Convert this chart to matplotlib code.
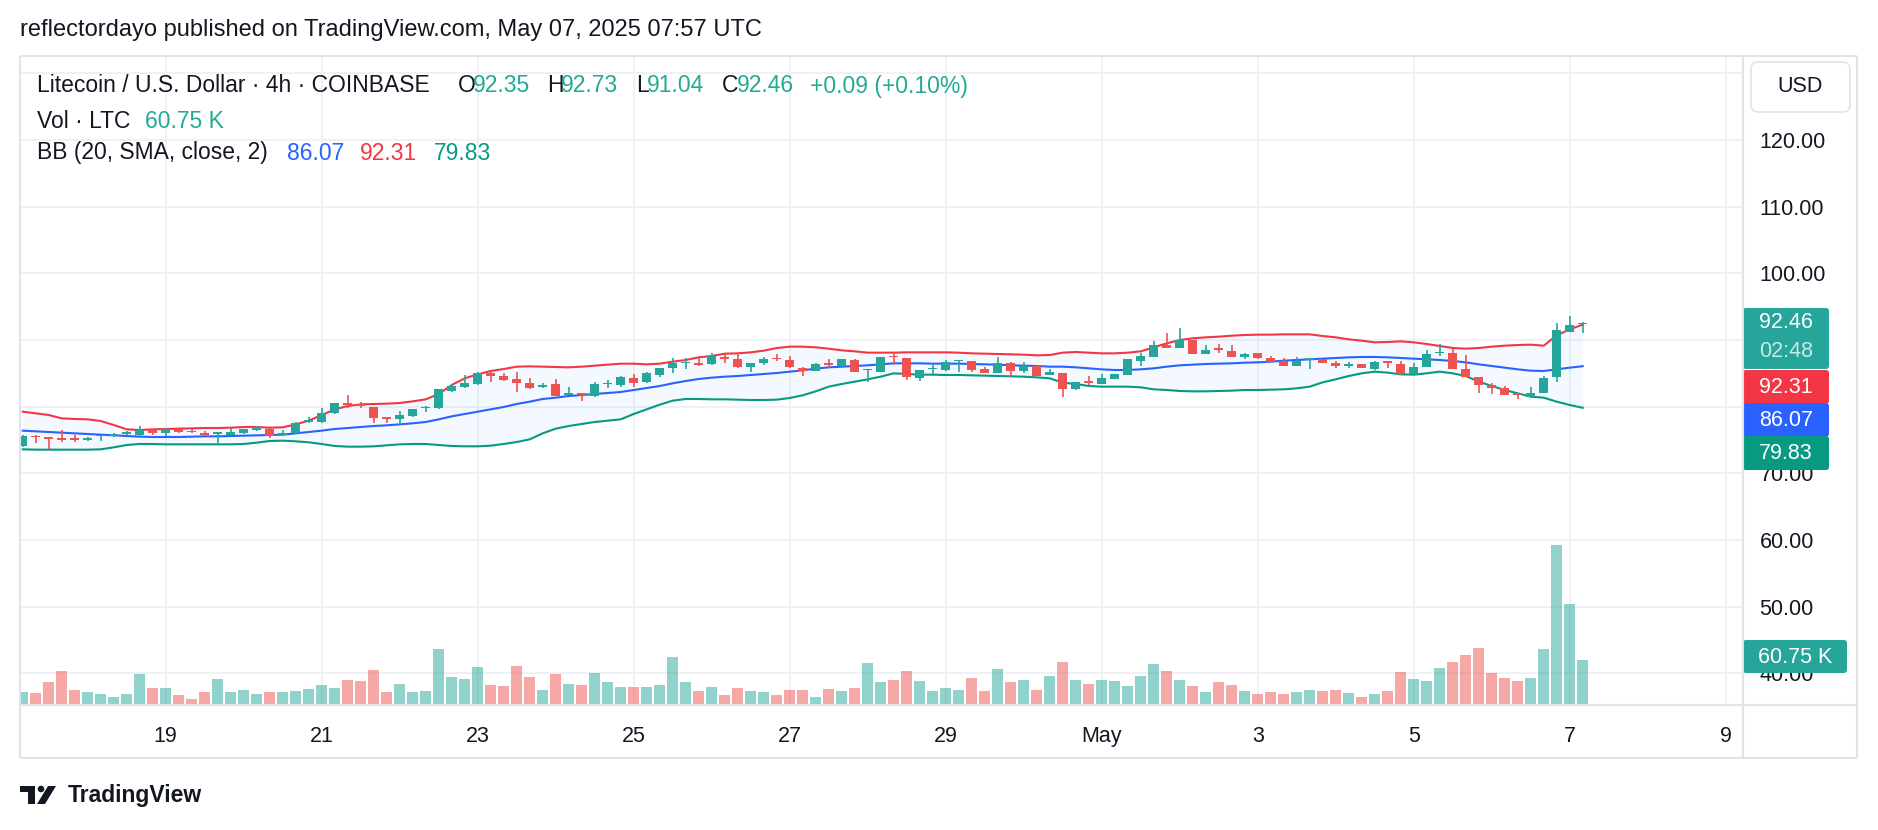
import numpy as np
import pandas as pd
import matplotlib
matplotlib.use("Agg")
import matplotlib.pyplot as plt
from matplotlib.patches import FancyBboxPatch, Rectangle, Polygon, Circle

plt.rcParams['font.family'] = ['Liberation Sans', 'DejaVu Sans']

# ------ data (LTCUSD 4h, Apr 17 04:00 -> May 7 04:00) ------
opens = [74.1, 75.6, 75.4, 75.3, 75.3, 74.95, 75.55, 75.6, 75.9, 75.8,
         76.55, 76.05, 76.7, 76.35, 76.1, 75.95, 75.7, 76.0, 76.5, 76.7,
         75.7, 76.0, 77.7, 77.75, 79.0, 80.5, 80.4, 79.9, 78.4, 78.1,
         78.6, 79.75, 79.75, 82.4, 83.0, 83.4, 85.1, 84.6, 84.15, 83.6,
         82.9, 83.35, 81.8, 82.1, 81.6, 83.4, 83.25, 84.25, 83.65, 84.75,
         85.75, 86.5, 86.6, 86.4, 87.5, 87.1, 85.9, 86.5, 87.3, 87.0,
         85.85, 85.4, 86.5, 86.1, 87.0, 85.5, 85.25, 87.6, 87.25, 84.35,
         85.6, 85.5, 86.8, 86.85, 85.7, 85.1, 86.6, 85.4, 86.1, 84.7,
         85.1, 82.6, 83.9, 83.4, 84.2, 84.75, 86.9, 87.5, 89.25, 88.75,
         90.0, 87.85, 88.75, 88.4, 87.4, 88.1, 87.3, 86.85, 86.15, 87.0,
         87.15, 86.6, 86.15, 86.4, 85.7, 86.8, 86.35, 84.9, 85.9, 88.0,
         88.1, 85.6, 84.4, 83.25, 82.75, 82.0, 81.5, 82.1, 84.4, 91.25,
         92.35]
highs = [75.75, 75.7, 75.4, 76.5, 75.7, 75.5, 75.75, 76.0, 76.3, 77.1,
         76.7, 76.8, 76.8, 76.6, 76.35, 76.2, 76.85, 76.7, 77.1, 76.8,
         76.5, 77.7, 78.4, 79.75, 80.6, 81.75, 80.75, 80.0, 78.4, 79.4,
         79.65, 80.1, 82.7, 83.4, 84.75, 85.25, 85.4, 85.0, 85.15, 84.25,
         83.5, 84.1, 82.9, 82.1, 83.75, 84.0, 84.6, 84.85, 85.25, 85.8,
         87.25, 87.25, 87.25, 88.0, 87.9, 88.0, 86.6, 87.5, 87.9, 87.6,
         85.9, 86.5, 87.1, 87.2, 87.1, 85.6, 87.5, 88.0, 87.25, 85.5,
         86.25, 87.0, 87.0, 86.85, 85.9, 87.4, 86.75, 86.65, 86.25, 85.65,
         85.1, 83.75, 84.6, 84.9, 84.9, 87.1, 88.1, 89.85, 91.1, 91.75,
         90.0, 89.25, 89.35, 89.25, 88.1, 88.1, 87.6, 87.3, 87.4, 87.25,
         87.15, 86.85, 86.75, 86.4, 86.85, 86.8, 86.8, 86.5, 88.5, 89.35,
         88.6, 87.75, 84.4, 83.5, 83.1, 82.0, 83.0, 84.6, 92.6, 93.6,
         92.73]
lows = [73.9, 74.5, 73.6, 74.75, 74.75, 74.8, 74.9, 75.4, 75.7, 75.5,
        75.8, 75.6, 76.1, 76.0, 75.6, 74.4, 75.6, 75.9, 76.3, 75.35,
        75.6, 75.9, 77.5, 77.6, 78.9, 79.85, 79.75, 77.6, 77.5, 77.5,
        78.4, 79.15, 79.7, 82.25, 82.75, 83.25, 83.75, 83.9, 82.25, 82.6,
        82.85, 81.6, 81.7, 80.9, 81.4, 82.75, 83.0, 83.0, 83.6, 84.5,
        85.1, 85.6, 86.1, 86.3, 86.6, 85.75, 85.25, 86.25, 86.9, 85.75,
        84.6, 85.3, 85.75, 86.0, 85.2, 83.75, 85.2, 86.25, 84.0, 83.9,
        84.9, 85.4, 85.25, 85.25, 85.0, 85.1, 84.5, 85.1, 84.6, 84.7,
        81.5, 82.5, 83.25, 83.4, 84.1, 84.75, 86.15, 87.5, 88.75, 88.75,
        87.85, 87.85, 88.0, 87.4, 87.1, 87.2, 86.75, 86.1, 86.1, 85.6,
        86.5, 85.75, 85.85, 85.75, 85.5, 85.85, 84.75, 84.9, 85.9, 87.6,
        85.6, 84.4, 82.1, 81.85, 81.75, 81.1, 81.25, 82.1, 83.75, 91.25,
        91.04]
closes = [75.6, 75.4, 75.2, 75.0, 75.05, 75.35, 75.7, 75.9, 76.15, 76.5,
          76.0, 76.65, 76.15, 76.2, 75.7, 76.05, 76.25, 76.65, 76.9, 75.6,
          76.0, 77.6, 78.0, 79.0, 80.5, 80.3, 80.1, 78.25, 78.2, 78.75,
          79.65, 79.95, 82.65, 83.1, 83.6, 85.0, 84.6, 84.0, 83.5, 82.85,
          83.2, 81.65, 82.1, 81.8, 83.35, 83.6, 84.4, 83.6, 85.0, 85.75,
          86.6, 86.6, 86.2, 87.6, 87.1, 85.9, 86.6, 87.1, 87.1, 85.9,
          85.4, 86.4, 86.3, 87.1, 85.25, 85.6, 87.5, 87.4, 84.5, 85.5,
          85.75, 86.75, 87.0, 85.5, 85.1, 86.6, 85.35, 86.1, 84.65, 85.15,
          82.65, 83.75, 83.6, 84.25, 84.9, 87.1, 87.6, 89.25, 88.75, 90.0,
          87.85, 88.5, 88.5, 87.4, 87.9, 87.25, 86.75, 86.15, 86.9, 87.25,
          86.5, 86.1, 86.35, 85.75, 86.7, 86.6, 84.9, 85.9, 87.9, 88.25,
          85.6, 84.4, 83.2, 82.75, 81.75, 81.75, 82.1, 84.35, 91.5, 92.25,
          92.46]
volumes_k = [17.0, 15.6, 30.3, 45.0, 19.6, 17.0, 14.3, 10.3, 14.3, 41.0,
             22.3, 22.3, 12.9, 7.6, 17.0, 34.3, 17.0, 19.6, 14.3, 17.0,
             17.0, 18.3, 21.0, 26.3, 22.3, 33.0, 31.7, 46.4, 17.0, 27.7,
             17.0, 18.3, 74.5, 37.0, 34.3, 50.4, 26.3, 25.0, 51.7, 37.0,
             19.6, 41.0, 27.7, 26.3, 42.4, 30.3, 23.6, 23.6, 23.6, 26.3,
             63.8, 30.3, 18.3, 23.6, 12.9, 22.3, 18.3, 17.0, 12.9, 19.6,
             19.6, 10.3, 21.0, 18.3, 22.3, 55.8, 30.3, 33.0, 45.0, 31.7,
             18.3, 22.3, 19.6, 35.7, 18.3, 47.7, 30.3, 33.0, 19.6, 38.4,
             57.1, 33.0, 27.7, 33.0, 31.7, 25.0, 38.4, 54.4, 45.0, 33.0,
             25.0, 17.0, 30.3, 26.3, 18.3, 14.3, 17.0, 14.3, 17.0, 19.6,
             18.3, 19.6, 15.6, 10.3, 14.3, 18.3, 43.7, 34.3, 31.7, 49.1,
             57.1, 66.5, 75.8, 42.4, 35.7, 31.7, 35.7, 74.5, 214.5, 134.7,
             60.75]
bb_upper = [79.25, 79.0, 78.75, 78.25, 78.15, 78.1, 77.85, 77.25, 76.6, 76.5,
            76.6, 76.65, 76.7, 76.75, 76.8, 76.8, 76.85, 76.95, 76.95, 76.85,
            76.9, 77.35, 77.9, 78.75, 79.6, 80.1, 80.35, 80.4, 80.45, 80.55,
            80.8, 81.1, 81.9, 83.25, 84.25, 84.85, 85.35, 85.65, 86.0, 86.05,
            86.0, 85.95, 85.9, 86.0, 86.15, 86.3, 86.45, 86.45, 86.35, 86.45,
            86.75, 87.0, 87.4, 87.6, 87.95, 88.0, 88.15, 88.4, 88.8, 89.0,
            89.0, 88.9, 88.7, 88.45, 88.3, 88.1, 88.1, 88.1, 88.15, 88.15,
            88.15, 88.15, 88.1, 88.0, 87.95, 87.9, 87.85, 87.8, 87.7, 87.75,
            88.1, 88.2, 88.1, 88.0, 88.0, 88.1, 88.3, 88.9, 89.5, 90.0,
            90.25, 90.4, 90.5, 90.65, 90.75, 90.8, 90.8, 90.85, 90.85, 90.85,
            90.6, 90.4, 90.1, 89.9, 89.65, 89.7, 89.8, 89.65, 89.4, 89.1,
            88.8, 88.7, 88.8, 89.0, 89.15, 89.25, 89.3, 89.15, 90.7, 91.6,
            92.31]
bb_basis = [76.4, 76.3, 76.2, 76.1, 76.0, 75.9, 75.8, 75.7, 75.6, 75.5,
            75.45, 75.45, 75.45, 75.5, 75.55, 75.55, 75.6, 75.65, 75.7, 75.75,
            75.8, 76.0, 76.2, 76.4, 76.65, 76.8, 76.95, 77.1, 77.2, 77.35,
            77.5, 77.7, 78.1, 78.55, 78.9, 79.25, 79.6, 79.95, 80.4, 80.75,
            81.15, 81.35, 81.6, 81.75, 81.9, 82.05, 82.2, 82.5, 82.8, 83.1,
            83.5, 83.85, 84.15, 84.35, 84.5, 84.6, 84.75, 84.9, 85.05, 85.25,
            85.45, 85.7, 85.9, 86.0, 86.1, 86.2, 86.35, 86.5, 86.5, 86.5,
            86.45, 86.45, 86.45, 86.4, 86.35, 86.3, 86.2, 86.15, 86.1, 86.0,
            86.0, 85.9, 85.75, 85.6, 85.5, 85.5, 85.6, 85.75, 86.0, 86.2,
            86.3, 86.4, 86.45, 86.5, 86.6, 86.65, 86.75, 86.9, 87.0, 87.1,
            87.2, 87.3, 87.4, 87.45, 87.45, 87.4, 87.3, 87.2, 87.1, 87.0,
            86.85, 86.65, 86.35, 86.1, 85.85, 85.6, 85.4, 85.35, 85.6, 85.85,
            86.07]
bb_lower = [73.6, 73.55, 73.55, 73.55, 73.55, 73.55, 73.6, 73.9, 74.25, 74.4,
            74.4, 74.35, 74.35, 74.35, 74.35, 74.35, 74.35, 74.4, 74.6, 74.85,
            74.9, 74.8, 74.65, 74.4, 74.1, 74.0, 74.0, 74.05, 74.2, 74.35,
            74.4, 74.4, 74.25, 74.1, 74.05, 74.05, 74.15, 74.4, 74.7, 75.1,
            76.0, 76.7, 77.1, 77.4, 77.7, 77.9, 78.1, 78.9, 79.6, 80.3,
            80.9, 81.15, 81.15, 81.1, 81.1, 81.05, 81.0, 81.0, 81.05, 81.3,
            81.7, 82.3, 83.0, 83.4, 83.75, 84.1, 84.5, 85.0, 84.9, 84.8,
            84.8, 84.75, 84.75, 84.7, 84.65, 84.6, 84.55, 84.5, 84.4, 84.25,
            83.6, 83.4, 83.1, 83.0, 83.0, 83.0, 82.9, 82.6, 82.5, 82.35,
            82.3, 82.3, 82.35, 82.4, 82.5, 82.5, 82.55, 82.6, 82.75, 83.0,
            83.65, 84.1, 84.6, 85.0, 85.25, 85.1, 84.85, 84.8, 85.0, 85.25,
            85.0, 84.6, 83.75, 83.1, 82.5, 82.0, 81.5, 81.35, 80.75, 80.25,
            79.83]
price_ticks = [40, 50, 60, 70, 80, 90, 100, 110, 120, 130]
hidden_ticks = [80, 90, 130]   # covered by the price tags / USD box in the original
# ------ /data ------

UP, DOWN = '#26a69a', '#ef5350'
TXT = '#131722'
W, H = 1878, 830

opens, highs, lows, closes = map(np.array, (opens, highs, lows, closes))
times = pd.date_range('2025-04-17 04:00', periods=len(closes), freq='4h')
x = np.arange(len(times))
up = closes >= opens
colors = np.where(up, UP, DOWN)

tick_days = pd.date_range('2025-04-19', '2025-05-09', freq='2D')
tick_pos = (tick_days - times[0]) / pd.Timedelta('4h')
tick_lbl = ['May' if d.day == 1 else str(d.day) for d in tick_days]

fig = plt.figure(figsize=(W / 100, H / 100), dpi=100)
L, R, T, B = 20, 1743, 56, 705
ax = fig.add_axes([L / W, 1 - B / H, (R - L) / W, (B - T) / H])
ax.set_xlim(-0.21, 132.33)
ax.set_ylim(35.25, 132.6)

# volume on its own scale
axv = ax.twinx()
axv.set_ylim(0, 868)
axv.bar(x, volumes_k, width=0.85, color=colors, alpha=0.5, lw=0)
axv.set_yticks([])
for s in axv.spines.values():
    s.set_visible(False)

# bollinger bands
ax.fill_between(x, bb_lower, bb_upper, color='#2196f3', alpha=0.05, lw=0, zorder=1)
ax.plot(x, bb_upper, color='#f23645', lw=1.5, zorder=2)
ax.plot(x, bb_basis, color='#2962ff', lw=1.5, zorder=2)
ax.plot(x, bb_lower, color='#089981', lw=1.5, zorder=2)

# candles
ax.vlines(x, lows, highs, colors=colors, lw=1.2, zorder=3)
body_h = np.maximum(np.abs(closes - opens), 0.18)
ax.bar(x, body_h, width=0.72, bottom=np.minimum(opens, closes), color=colors, lw=0, zorder=4)

ax.yaxis.tick_right()
ax.set_yticks(price_ticks, ['' if v in hidden_ticks else f'{v:.2f}' for v in price_ticks])
ax.set_xticks(tick_pos, tick_lbl)
ax.tick_params(axis='y', length=0, pad=12, labelsize=15.5, labelcolor=TXT,
               left=False, labelleft=False, right=True, labelright=True)
ax.tick_params(axis='x', length=0, pad=15, labelsize=15.5, labelcolor=TXT)
ax.grid(True, color='#eef0f5', lw=1.3)
ax.set_axisbelow(True)
for s in ax.spines.values():
    s.set_visible(False)

# ------ overlay in pixel coords ------
ov = fig.add_axes([0, 0, 1, 1])
ov.set_xlim(0, W)
ov.set_ylim(H, 0)
ov.axis('off')
ov.patch.set_alpha(0)

frame = '#e0e3eb'
for (x0, y0, x1, y1) in [(20, 56, 1857, 56), (20, 758, 1857, 758), (20, 56, 20, 758),
                         (1857, 56, 1857, 758), (1743, 56, 1743, 758), (20, 705, 1857, 705)]:
    ov.plot([x0, x1], [y0, y1], color=frame, lw=1.5, solid_capstyle='butt')

ov.text(20, 30, 'reflectordayo published on TradingView.com, May 07, 2025 07:57 UTC',
        fontsize=17, color=TXT, va='center')

# legend lines
fs = 16.5
ov.text(37, 86, 'Litecoin / U.S. Dollar · 4h · COINBASE', fontsize=fs, color=TXT, va='center')
for lab, val, xl, xv in [('O', '92.35', 458, 473), ('H', '92.73', 547, 561),
                         ('L', '91.04', 636, 647), ('C', '92.46', 722, 737)]:
    ov.text(xl, 86, lab, fontsize=fs, color=TXT, va='center')
    ov.text(xv, 86, val, fontsize=fs, color='#22ab94', va='center')
ov.text(810, 86, '+0.09 (+0.10%)', fontsize=fs, color='#22ab94', va='center')
ov.text(37, 121, 'Vol · LTC', fontsize=fs, color=TXT, va='center')
ov.text(145, 121, '60.75 K', fontsize=fs, color='#22ab94', va='center')
ov.text(37, 153, 'BB (20, SMA, close, 2)', fontsize=fs, color=TXT, va='center')
ov.text(287, 153, '86.07', fontsize=fs, color='#2962ff', va='center')
ov.text(360, 153, '92.31', fontsize=fs, color='#f23645', va='center')
ov.text(434, 153, '79.83', fontsize=fs, color='#089981', va='center')

# USD box
ov.add_patch(FancyBboxPatch((1751, 62), 99, 50, boxstyle='round,pad=0,rounding_size=7',
                            fc='white', ec='#e0e3eb', lw=1.2))
ov.text(1800, 87, 'USD', fontsize=15.5, color=TXT, ha='center', va='center')


def tag(y0, y1, color, x1=1829):
    ov.add_patch(FancyBboxPatch((1743, y0), x1 - 1743, y1 - y0,
                                boxstyle='round,pad=0,rounding_size=3', fc=color, ec='none'))


tag(308, 369, '#26a69a')
ov.text(1786, 322, '92.46', fontsize=15.5, color='white', ha='center', va='center')
ov.text(1786, 351, '02:48', fontsize=15.5, color='white', alpha=0.75, ha='center', va='center')
tag(370, 404, '#f23645')
ov.text(1786, 387, '92.31', fontsize=15.5, color='white', ha='center', va='center')
tag(403, 437, '#2962ff')
ov.text(1786, 420, '86.07', fontsize=15.5, color='white', ha='center', va='center')
tag(436, 470, '#089981')
ov.text(1786, 453, '79.83', fontsize=15.5, color='white', ha='center', va='center')
tag(640, 673, '#26a69a', x1=1847)
ov.text(1795, 657, '60.75 K', fontsize=15.5, color='white', ha='center', va='center')

# TradingView logo
ov.add_patch(Rectangle((20, 786), 15, 6, color=TXT, lw=0))
ov.add_patch(Rectangle((28, 786), 7, 18, color=TXT, lw=0))
ov.add_patch(Circle((41, 789), 3.3, color=TXT, lw=0))
ov.add_patch(Polygon([(37, 804), (45, 804), (56, 786), (48, 786)], color=TXT, lw=0))
ov.text(68, 795, 'TradingView', fontsize=16.5, fontweight='bold', color=TXT, va='center')

fig.savefig('out.png', dpi=100, facecolor='white')
